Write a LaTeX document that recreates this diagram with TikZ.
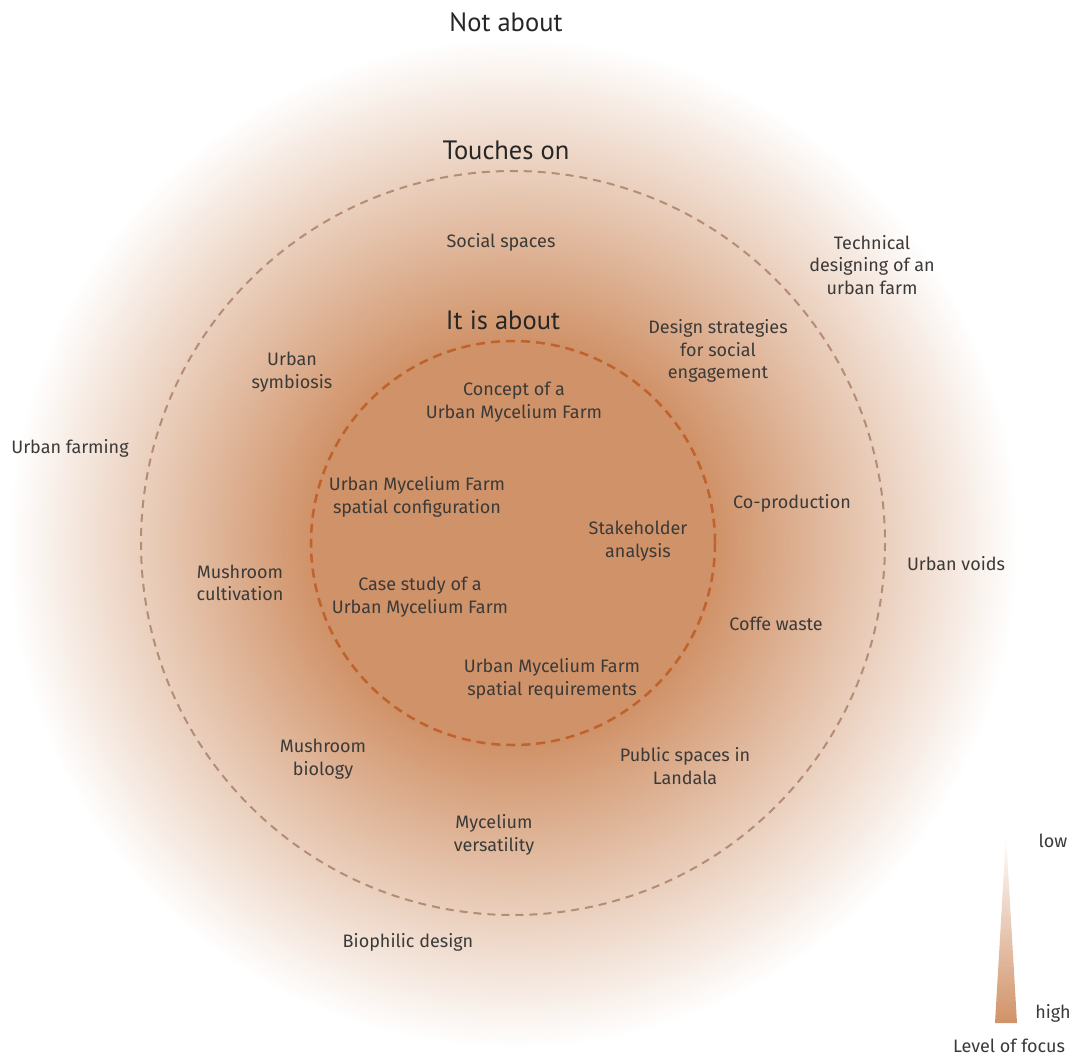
\documentclass[tikz,border=0pt]{standalone}
\usepackage{fontspec}
\setmainfont{Fira Sans}
\newfontfamily\headfont{PT Sans}

\definecolor{focus}{RGB}{208,146,104}
\definecolor{innerdash}{RGB}{192,98,43}
\definecolor{outerdash}{RGB}{180,140,120}
\definecolor{labeltext}{RGB}{60,58,56}
\pgfdeclareradialshading{focusglow}{\pgfpoint{0bp}{0bp}}%
  {color(0bp)=(focus); color(10bp)=(focus); color(25bp)=(white); color(50bp)=(white)}

\begin{document}
\begin{tikzpicture}[x=1pt,y=-1pt,
  topic/.style={font=\fontsize{18}{22.5}\selectfont,text=labeltext,align=center},
  heading/.style={font=\headfont\fontsize{26.5}{30}\selectfont,text=black!85},
  ring/.style={dash pattern=on 8pt off 6pt}]
  \useasboundingbox (0,0) rectangle (1075,1057);
  \coordinate (c) at (513,543);

  % glow and rings
  \shade[shading=focusglow] (c) circle (505);
  \draw[ring,outerdash,line width=2pt] (c) circle (372);
  \draw[ring,innerdash,line width=2.5pt,dash pattern=on 9pt off 6pt] (c) circle (202);

  % headings
  \node[heading] (notabout) at (506,22) {Not about};
  \node[heading] (touches) at (506,150) {Touches on};
  \node[heading] (about) at (503,320) {It is about};

  % it is about
  \node[topic] (concept) at (514,402) {Concept of a\\Urban Mycelium Farm};
  \node[topic] (config) at (417,497) {Urban Mycelium Farm\\spatial configuration};
  \node[topic] (stake) at (638,541) {Stakeholder\\analysis};
  \node[topic] (casestudy) at (420,597) {Case study of a\\Urban Mycelium Farm};
  \node[topic] (require) at (552,679) {Urban Mycelium Farm\\spatial requirements};

  % touches on
  \node[topic] (social) at (501,242) {Social spaces};
  \node[topic] (strategies) at (718,351) {Design strategies\\for social\\engagement};
  \node[topic] (symbiosis) at (292,372) {Urban\\symbiosis};
  \node[topic] (coprod) at (792,503) {Co-production};
  \node[topic] (cultivation) at (240,583) {Mushroom\\cultivation};
  \node[topic] (coffee) at (776,624) {Coffe waste};
  \node[topic] (biology) at (323,759) {Mushroom\\biology};
  \node[topic] (public) at (685,766) {Public spaces in\\Landala};
  \node[topic] (versatility) at (494,835) {Mycelium\\versatility};

  % not about
  \node[topic] (technical) at (872,265) {Technical\\designing of an\\urban farm};
  \node[topic] (farming) at (70,448) {Urban farming};
  \node[topic] (voids) at (956,564) {Urban voids};
  \node[topic] (biophilic) at (408,942) {Biophilic design};

  % legend
  \shade[top color=white,bottom color=focus] (995,1023) -- (1017,1023) -- (1006,835) -- cycle;
  \node[topic] (low) at (1053,841) {low};
  \node[topic] (high) at (1053,1013) {high};
  \node[topic] (level) at (1009,1046) {Level of focus};
\end{tikzpicture}
\end{document}
